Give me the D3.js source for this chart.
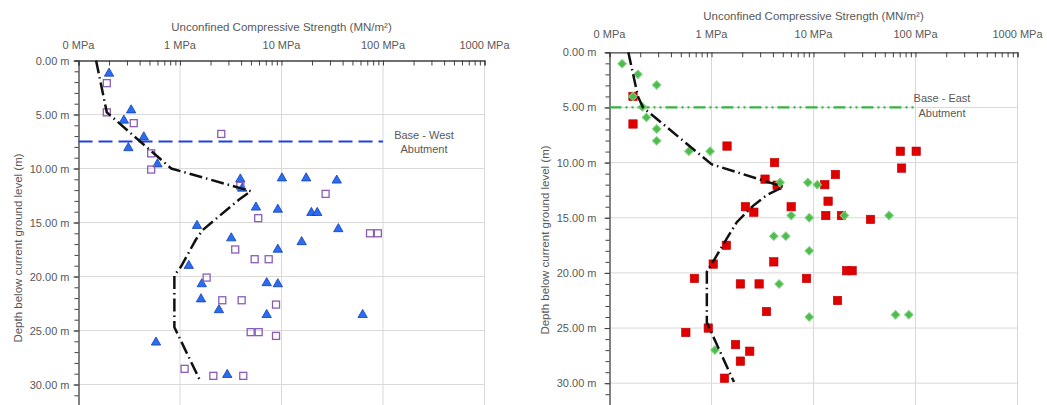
<!DOCTYPE html>
<html><head><meta charset="utf-8">
<script src="https://cdn.jsdelivr.net/npm/d3@7"></script>
<style>body{margin:0;background:#fff;overflow:hidden}</style>
</head><body><svg id="c" width="1047" height="405"></svg>
<script>
// ---------- shared axis text ----------
const xTickValues = [0.1, 1, 10, 100, 1000];
const xTickLabels = ["0 MPa", "1 MPa", "10 MPa", "100 MPa", "1000 MPa"];
const xMinorValues = [0.2,0.3,0.4,0.5,0.6,0.7,0.8,0.9,2,3,4,5,6,7,8,9,20,30,40,50,60,70,80,90,200,300,400,500,600,700,800,900];
const yTickValues = [0, 5, 10, 15, 20, 25, 30];
const yMinorValues = d3.range(0, 36, 1);
const xTitle = "Unconfined Compressive Strength (MN/m²)";
const yTitle = "Depth below current ground level (m)";

// ---------- West abutment (left) ----------
const westTriDepth = [1.2,4.6,5.55,7.1,8.1,9.6,10.9,10.9,11.0,11.1,11.85,13.6,13.8,14.1,14.1,15.3,15.6,16.45,16.8,17.5,19.0,20.6,20.7,20.7,22.1,23.1,23.55,23.55,26.1,29.1];
const westTriUCS   = [0.2,0.33,0.28,0.44,0.31,0.6,10.1,17.5,3.93,35,4.1,5.6,9.2,19.7,22.5,1.47,36.3,3.2,15.8,9.2,1.22,7.15,1.64,9.2,1.61,2.42,7.15,63,0.58,2.92];
const westSqDepth  = [2.1,4.8,5.8,6.8,8.6,10.1,11.6,12.35,14.6,16.0,16.0,17.5,18.4,18.4,20.1,22.2,22.2,22.6,25.15,25.15,25.5,28.55,29.2,29.2];
const westSqUCS    = [0.19,0.19,0.35,2.55,0.52,0.52,3.93,27.2,5.9,74.5,89,3.5,5.44,7.48,1.83,2.61,4.05,8.83,4.97,5.96,8.83,1.11,2.13,4.2];
const westTrendDepth = [0,4.8,10,12.1,12.9,14.4,15.7,16.6,19.1,19.9,24.7,29.6];
const westTrendUCS   = [0.149,0.19,0.82,5.0,3.8,2.44,1.67,1.43,1.02,0.88,0.88,1.57];
const westBaseDepth = 7.5;
const westBaseLabel = ["Base - West", "Abutment"];

// ---------- East abutment (right) ----------
const eastRedDepth = [4.0,6.5,8.5,8.97,8.97,10.0,10.5,11.08,11.5,12.05,12.0,13.5,14.0,14.0,14.5,14.8,14.8,15.15,17.5,19.0,19.2,19.8,19.8,20.5,20.5,21.0,21.0,22.5,23.5,25.0,25.4,26.5,27.1,28.0,29.55];
const eastRedUCS   = [0.17,0.17,1.42,71,101.6,4.15,73,16.4,3.35,4.4,12.9,13.9,2.15,6.04,2.6,13.2,18.8,36.2,1.4,4.08,1.04,21.1,23.9,0.68,8.54,1.92,2.93,17.2,3.46,0.93,0.56,1.72,2.37,1.92,1.34];
const eastGreenDepth = [1.03,2.0,2.96,4.0,4.95,5.9,6.95,8.03,8.97,8.97,11.8,11.8,12.0,14.8,15.0,14.8,14.8,16.67,16.67,18.0,21.0,24.0,23.8,23.8,27.0];
const eastGreenUCS   = [0.133,0.19,0.29,0.17,0.21,0.23,0.29,0.29,0.6,0.97,4.7,8.8,10.9,6.04,9.08,20.1,55,4.08,5.35,9.08,4.6,9.08,63.7,86,1.08];
const eastTrendDepth = [0,4.0,5.0,10.15,12.2,12.95,13.9,15.4,16.9,18.7,19.9,24.5,29.9];
const eastTrendUCS   = [0.153,0.19,0.213,1.0,5.06,3.48,2.57,1.77,1.41,1.08,0.90,0.90,1.66];
const eastBaseDepth = 5.0;
const eastBaseLabel = ["Base - East", "Abutment"];

const zip = (d, v) => d.map((dd, i) => ({depth: dd, ucs: v[i]}));

const svg = d3.select("#c");
const FONT = "'Liberation Sans', Arial, sans-serif";
const TXT = "#595959";

function panel(cfg) {
  const x = d3.scaleLog().domain([0.1, 1000]).range([cfg.x0, cfg.x1]);
  const y = d3.scaleLinear().domain([0, 35]).range([cfg.y0, cfg.y0 + 35 * cfg.pxm]);
  const g = svg.append("g");

  // gridlines
  g.append("g").selectAll("line").data(yTickValues.filter(v => v > 0)).join("line")
    .attr("x1", cfg.x0).attr("x2", cfg.x1).attr("y1", d => y(d)).attr("y2", d => y(d))
    .attr("stroke", "#d9d9d9").attr("stroke-width", 1);
  g.append("g").selectAll("line").data(xTickValues.filter(v => v > 0.1)).join("line")
    .attr("x1", d => x(d)).attr("x2", d => x(d)).attr("y1", y(0)).attr("y2", y(35))
    .attr("stroke", "#d9d9d9").attr("stroke-width", 1);

  // x axis (top)
  const xa = g.append("g").attr("transform", `translate(0,${y(0)})`)
    .call(d3.axisTop(x).tickValues(xTickValues.concat(xMinorValues)).tickSize(-5).tickFormat(""));
  xa.selectAll("line").attr("stroke", "#404040");
  xa.select(".domain").attr("stroke", "#404040").attr("stroke-width", 1.3);
  g.append("g").selectAll("text").data(xTickValues).join("text")
    .attr("x", d => x(d)).attr("y", cfg.labelY).attr("text-anchor", "middle")
    .attr("font-family", FONT).attr("font-size", 11).attr("fill", TXT)
    .text((d, i) => xTickLabels[i]);
  g.append("text").attr("x", (cfg.x0 + cfg.x1) / 2).attr("y", cfg.titleY).attr("text-anchor", "middle")
    .attr("font-family", FONT).attr("font-size", 11.5).attr("fill", TXT).text(xTitle);

  // y axis (left)
  const ya = g.append("g").attr("transform", `translate(${cfg.x0},0)`)
    .call(d3.axisLeft(y).tickValues(yMinorValues).tickSize(4).tickFormat(""));
  ya.selectAll("line").attr("stroke", "#404040");
  ya.select(".domain").attr("stroke", "#404040").attr("stroke-width", 1.3);
  const yb = g.append("g").attr("transform", `translate(${cfg.x0},0)`)
    .call(d3.axisLeft(y).tickValues(yTickValues).tickSize(5).tickPadding(cfg.yPad).tickFormat(d => d.toFixed(2) + " m"));
  yb.select(".domain").remove();
  yb.selectAll("line").attr("stroke", "#404040");
  yb.selectAll("text").attr("font-family", FONT).attr("font-size", 11).attr("fill", TXT);
  g.append("text").attr("transform", `translate(${cfg.yTitleX},${cfg.yTitleY}) rotate(-90)`)
    .attr("text-anchor", "middle").attr("dominant-baseline", "middle")
    .attr("font-family", FONT).attr("font-size", 11.5).attr("fill", TXT).text(yTitle);

  // base line
  g.append("line").attr("x1", cfg.x0).attr("x2", x(100))
    .attr("y1", y(cfg.baseDepth)).attr("y2", y(cfg.baseDepth))
    .attr("stroke", cfg.baseColor).attr("stroke-width", 2.2).attr("stroke-dasharray", cfg.baseDash);
  g.append("g").selectAll("text").data(cfg.baseLabel).join("text")
    .attr("x", cfg.labelX).attr("y", (d, i) => y(cfg.baseDepth) + cfg.labelDy + i * 14.5)
    .attr("text-anchor", "middle").attr("font-family", FONT).attr("font-size", 11).attr("fill", TXT)
    .text(d => d);

  return {g, x, y};
}

// ---------- left panel ----------
const L = panel({x0: 78.5, x1: 484.5, y0: 60.5, pxm: 10.8, labelY: 49, titleY: 31, yPad: 4, yTitleX: 19, yTitleY: 248,
  baseDepth: westBaseDepth, baseColor: "#2040e0", baseDash: "14,6", baseLabel: westBaseLabel, labelX: 424, labelDy: -3});
L.g.append("g").selectAll("path").data(zip(westTriDepth, westTriUCS)).join("path")
  .attr("d", d3.symbol(d3.symbolTriangle, 38))
  .attr("transform", d => `translate(${L.x(d.ucs)},${L.y(d.depth)})`)
  .attr("fill", "#2a6df0").attr("stroke", "#1240b0").attr("stroke-width", 0.8);
L.g.append("g").selectAll("rect").data(zip(westSqDepth, westSqUCS)).join("rect")
  .attr("x", d => L.x(d.ucs) - 3.5).attr("y", d => L.y(d.depth) - 3.5).attr("width", 7).attr("height", 7)
  .attr("fill", "none").attr("stroke", "#8a5cb8").attr("stroke-width", 1.3);
L.g.append("path").datum(zip(westTrendDepth, westTrendUCS))
  .attr("d", d3.line().x(d => L.x(d.ucs)).y(d => L.y(d.depth)))
  .attr("fill", "none").attr("stroke", "#111").attr("stroke-width", 2.5).attr("stroke-dasharray", "13,4,1.5,4");

// ---------- right panel ----------
const R = panel({x0: 609.5, x1: 1017.5, y0: 52.3, pxm: 11.03, labelY: 38, titleY: 20, yPad: 8, yTitleX: 546, yTitleY: 240,
  baseDepth: eastBaseDepth, baseColor: "#3cb043", baseDash: "12,4,2,4,2,4", baseLabel: eastBaseLabel, labelX: 942, labelDy: -5});
R.g.append("g").selectAll("rect").data(zip(eastRedDepth, eastRedUCS)).join("rect")
  .attr("x", d => R.x(d.ucs) - 4.2).attr("y", d => R.y(d.depth) - 4.2).attr("width", 8.4).attr("height", 8.4)
  .attr("fill", "#e00000").attr("stroke", "#c00000").attr("stroke-width", 0.6);
R.g.append("g").selectAll("rect").data(zip(eastGreenDepth, eastGreenUCS)).join("rect")
  .attr("x", -3).attr("y", -3).attr("width", 6).attr("height", 6)
  .attr("transform", d => `translate(${R.x(d.ucs)},${R.y(d.depth)}) rotate(45)`)
  .attr("fill", "#4dbb4d").attr("stroke", "#7dd27d").attr("stroke-width", 1);
R.g.append("path").datum(zip(eastTrendDepth, eastTrendUCS))
  .attr("d", d3.line().x(d => R.x(d.ucs)).y(d => R.y(d.depth)))
  .attr("fill", "none").attr("stroke", "#111").attr("stroke-width", 2.5).attr("stroke-dasharray", "13,4,1.5,4");
</script>
</body></html>
